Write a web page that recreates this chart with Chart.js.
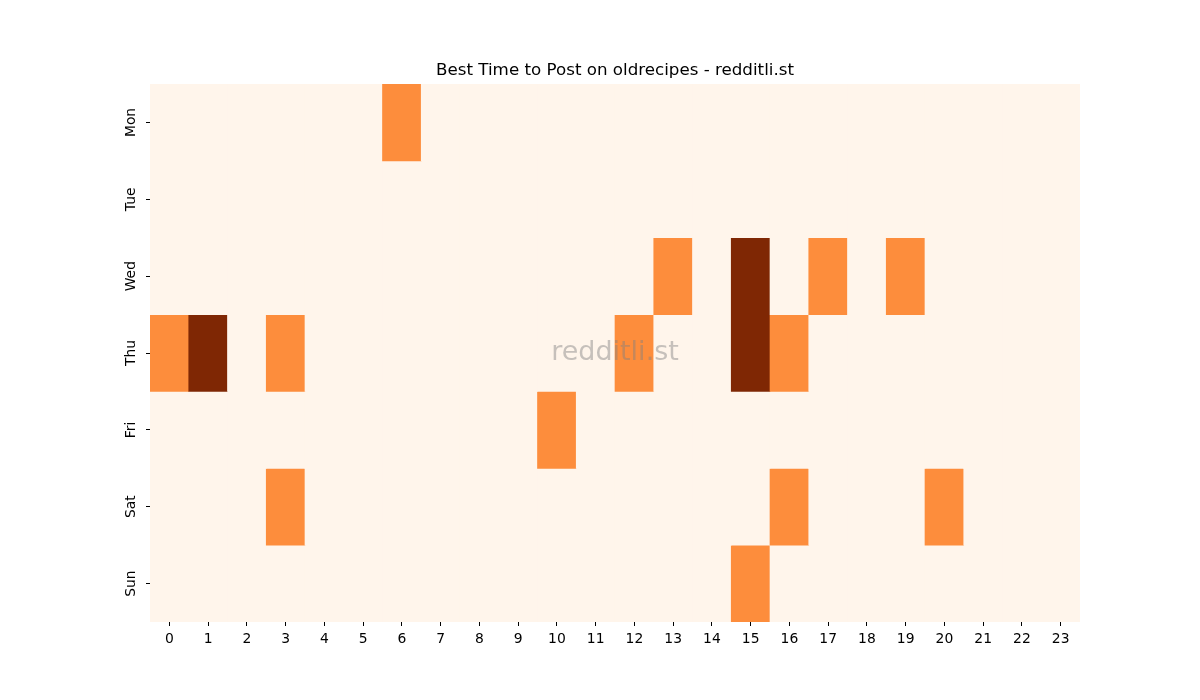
<html><head><meta charset="utf-8">
<script src="https://cdn.jsdelivr.net/npm/chart.js@4.4.0/dist/chart.umd.min.js"></script>
<style>body{margin:0;background:#fff;} #wrap{width:1200px;height:700px;}</style>
</head>
<body>
<div id="wrap"><canvas id="myChart" width="1200" height="700"></canvas></div>
<script>
// hours on x, weekdays on y
var hours = ['0','1','2','3','4','5','6','7','8','9','10','11','12','13','14','15','16','17','18','19','20','21','22','23'];
var days = ['Mon','Tue','Wed','Thu','Fri','Sat','Sun'];

// post scores per hour, one list per weekday
var monVals = [0,0,0,0,0,0,1,0,0,0,0,0,0,0,0,0,0,0,0,0,0,0,0,0];
var tueVals = [0,0,0,0,0,0,0,0,0,0,0,0,0,0,0,0,0,0,0,0,0,0,0,0];
var wedVals = [0,0,0,0,0,0,0,0,0,0,0,0,0,1,0,2,0,1,0,1,0,0,0,0];
var thuVals = [1,2,0,1,0,0,0,0,0,0,0,0,1,0,0,2,1,0,0,0,0,0,0,0];
var friVals = [0,0,0,0,0,0,0,0,0,0,1,0,0,0,0,0,0,0,0,0,0,0,0,0];
var satVals = [0,0,0,1,0,0,0,0,0,0,0,0,0,0,0,0,1,0,0,0,1,0,0,0];
var sunVals = [0,0,0,0,0,0,0,0,0,0,0,0,0,0,0,1,0,0,0,0,0,0,0,0];
var rows = [monVals, tueVals, wedVals, thuVals, friVals, satVals, sunVals];

// Oranges colormap at 0, 0.5, 1
var palette = ['#fff5eb', '#fd8d3c', '#7f2704'];

var datasets = rows.map(function(r, i) {
  return {
    label: days[i],
    data: r.map(function() { return 1; }),
    backgroundColor: r.map(function(v) { return palette[v]; }),
    borderWidth: 0,
    barPercentage: 1.0,
    categoryPercentage: 1.0,
    stack: 's'
  };
});

var watermark = {
  id: 'watermark',
  afterDatasetsDraw: function(chart) {
    var a = chart.chartArea, c = chart.ctx;
    c.save();
    c.font = '27px "DejaVu Sans"';
    c.fillStyle = 'rgba(128,128,128,0.45)';
    c.textAlign = 'center';
    c.textBaseline = 'middle';
    c.fillText('redditli.st', (a.left + a.right) / 2, (a.top + a.bottom) / 2);
    c.restore();
  }
};

var ctx = document.getElementById('myChart');
var myChart = new Chart(ctx, {
  type: 'bar',
  data: { labels: hours, datasets: datasets },
  plugins: [watermark],
  options: {
    responsive: false,
    animation: false,
    layout: { padding: { left: 110, right: 80, top: 61, bottom: 28 } },
    plugins: {
      legend: { display: false },
      tooltip: { enabled: false },
      title: {
        display: true,
        text: 'Best Time to Post on oldrecipes - redditli.st',
        color: '#000',
        font: { family: 'DejaVu Sans', size: 16.7, weight: 'normal' },
        padding: { top: 0, bottom: 3 }
      }
    },
    scales: {
      x: {
        stacked: true,
        grid: { offset: false, drawOnChartArea: false, drawTicks: true, tickLength: 4, color: '#000' },
        border: { display: false },
        ticks: { color: '#000', font: { family: 'DejaVu Sans', size: 13.9 }, maxRotation: 0, autoSkip: false, padding: 5 },
        afterFit: function(s) { s.height = 50; }
      },
      y: {
        stacked: true,
        min: 0,
        max: 7,
        reverse: true,
        grid: { drawOnChartArea: false, drawTicks: true, tickLength: 4, color: '#000' },
        border: { display: false },
        afterBuildTicks: function(s) {
          s.ticks = days.map(function(d, i) { return { value: i + 0.5 }; });
        },
        ticks: {
          color: '#000',
          font: { family: 'DejaVu Sans', size: 13.9 },
          minRotation: 90,
          maxRotation: 90,
          crossAlign: 'center',
          padding: -1,
          callback: function(v) { return days[Math.floor(v)]; }
        },
        afterFit: function(s) { s.width = 40; }
      },
      // empty right axis so the title centres over the plot
      yPad: {
        position: 'right',
        min: 0,
        max: 1,
        grid: { display: false },
        border: { display: false },
        ticks: { display: false },
        afterFit: function(s) { s.width = 40; }
      }
    }
  }
});
</script>
</body></html>
